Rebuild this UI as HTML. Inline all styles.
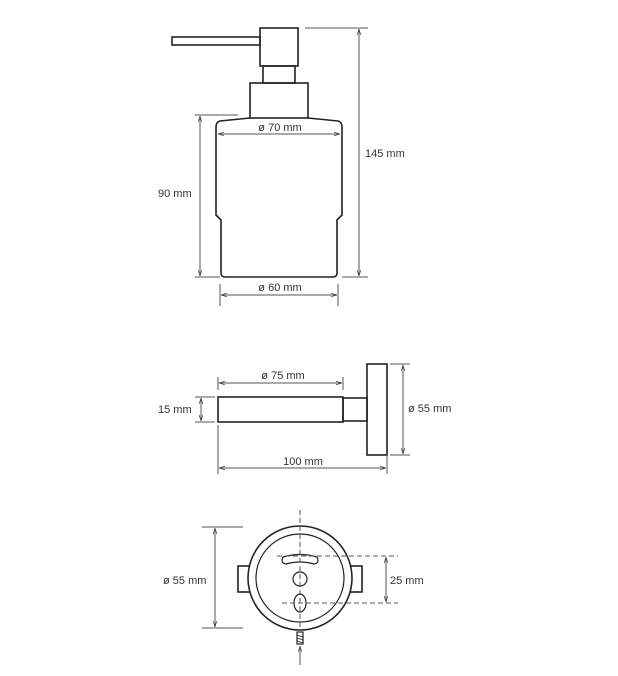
<!DOCTYPE html>
<html><head><meta charset="utf-8"><style>
html,body{margin:0;padding:0;background:#fff;}
svg{display:block;}
text{font-family:"Liberation Sans",sans-serif;font-size:11px;fill:#333;}
</style></head><body>
<svg width="618" height="676" viewBox="0 0 618 676" xmlns="http://www.w3.org/2000/svg">
<defs>
<marker id="a" viewBox="0 0 10 10" refX="10" refY="5" markerWidth="6" markerHeight="6" orient="auto-start-reverse"><path d="M0,2 L10,5 L0,8" fill="none" stroke="#444" stroke-width="1.2"/></marker>
</defs>
<g fill="none" stroke="#222" stroke-width="1.6">
<!-- dispenser -->
<rect x="172" y="37" width="88" height="8"/>
<rect x="260" y="28" width="38" height="38"/>
<rect x="263" y="66" width="32" height="17"/>
<rect x="250" y="83" width="58" height="35"/>
<path d="M250,118 L220,121 Q216,122 216,127 L216,215 L221,220 L221,273 Q221,277 225,277 L333,277 Q337,277 337,273 L337,220 L342,215 L342,127 Q342,122 338,121 L308,118"/>
<!-- bracket side -->
<rect x="218" y="397" width="125" height="25"/>
<rect x="343" y="398" width="24" height="23"/>
<rect x="367" y="364" width="20" height="91"/>
<!-- bottom view -->
<rect x="238" y="566" width="12" height="26"/>
<rect x="350" y="566" width="12" height="26"/>
<circle cx="300" cy="578" r="52" fill="#fff"/>
<circle cx="300" cy="578" r="44" stroke-width="1.2"/>
<path d="M283,557 Q300,552 317,557 Q320,563 314,564 Q300,560 286,564 Q280,563 283,557Z" stroke-width="1.2"/>
<circle cx="300" cy="579" r="7" stroke-width="1.2"/>
<ellipse cx="300" cy="603" rx="6" ry="9" stroke-width="1.2"/>
<rect x="297" y="632" width="6" height="12" stroke-width="1.2"/>
<path d="M297,635 L303,637 M297,638 L303,640 M297,641 L303,643" stroke-width="0.8"/>
</g>
<g fill="none" stroke="#555" stroke-width="1">
<!-- 145 -->
<line x1="305" y1="28" x2="368" y2="28"/><line x1="342" y1="277" x2="368" y2="277"/>
<line x1="359" y1="29" x2="359" y2="276" marker-start="url(#a)" marker-end="url(#a)"/>
<!-- 90 -->
<line x1="195" y1="115" x2="238" y2="115"/><line x1="195" y1="277" x2="220" y2="277"/>
<line x1="200" y1="116" x2="200" y2="276" marker-start="url(#a)" marker-end="url(#a)"/>
<!-- 70 -->
<line x1="218" y1="134" x2="340" y2="134" marker-start="url(#a)" marker-end="url(#a)"/>
<!-- 60 -->
<line x1="220" y1="284" x2="220" y2="306"/><line x1="338" y1="284" x2="338" y2="306"/>
<line x1="221" y1="295" x2="337" y2="295" marker-start="url(#a)" marker-end="url(#a)"/>
<!-- 75 -->
<line x1="218" y1="377" x2="218" y2="390"/><line x1="343" y1="377" x2="343" y2="390"/>
<line x1="219" y1="383" x2="342" y2="383" marker-start="url(#a)" marker-end="url(#a)"/>
<!-- 15 -->
<line x1="195" y1="397" x2="215" y2="397"/><line x1="195" y1="422" x2="215" y2="422"/>
<line x1="201" y1="398" x2="201" y2="421" marker-start="url(#a)" marker-end="url(#a)"/>
<!-- 55 side -->
<line x1="390" y1="364" x2="410" y2="364"/><line x1="390" y1="455" x2="410" y2="455"/>
<line x1="403" y1="365" x2="403" y2="454" marker-start="url(#a)" marker-end="url(#a)"/>
<!-- 100 -->
<line x1="218" y1="425" x2="218" y2="474"/><line x1="387" y1="456" x2="387" y2="474"/>
<line x1="219" y1="468" x2="386" y2="468" marker-start="url(#a)" marker-end="url(#a)"/>
<!-- 55 bottom -->
<line x1="202" y1="527" x2="243" y2="527"/><line x1="202" y1="628" x2="243" y2="628"/>
<line x1="215" y1="528" x2="215" y2="627" marker-start="url(#a)" marker-end="url(#a)"/>
<!-- 25 -->
<line x1="386" y1="557" x2="386" y2="602" marker-start="url(#a)" marker-end="url(#a)"/>
<!-- dashed -->
<g stroke-dasharray="5,3">
<line x1="300" y1="510" x2="300" y2="630"/>
<line x1="277" y1="556" x2="398" y2="556"/>
<line x1="282" y1="603" x2="398" y2="603"/>
</g>
<line x1="300" y1="665" x2="300" y2="646" marker-end="url(#a)"/>
</g>
<text x="365" y="157">145 mm</text>
<text x="158" y="197">90 mm</text>
<text x="280" y="131" text-anchor="middle">ø 70 mm</text>
<text x="280" y="291" text-anchor="middle">ø 60 mm</text>
<text x="283" y="379" text-anchor="middle">ø 75 mm</text>
<text x="158" y="413">15 mm</text>
<text x="408" y="412">ø 55 mm</text>
<text x="303" y="465" text-anchor="middle">100 mm</text>
<text x="163" y="584">ø 55 mm</text>
<text x="390" y="584">25 mm</text>
</svg>
</body></html>
